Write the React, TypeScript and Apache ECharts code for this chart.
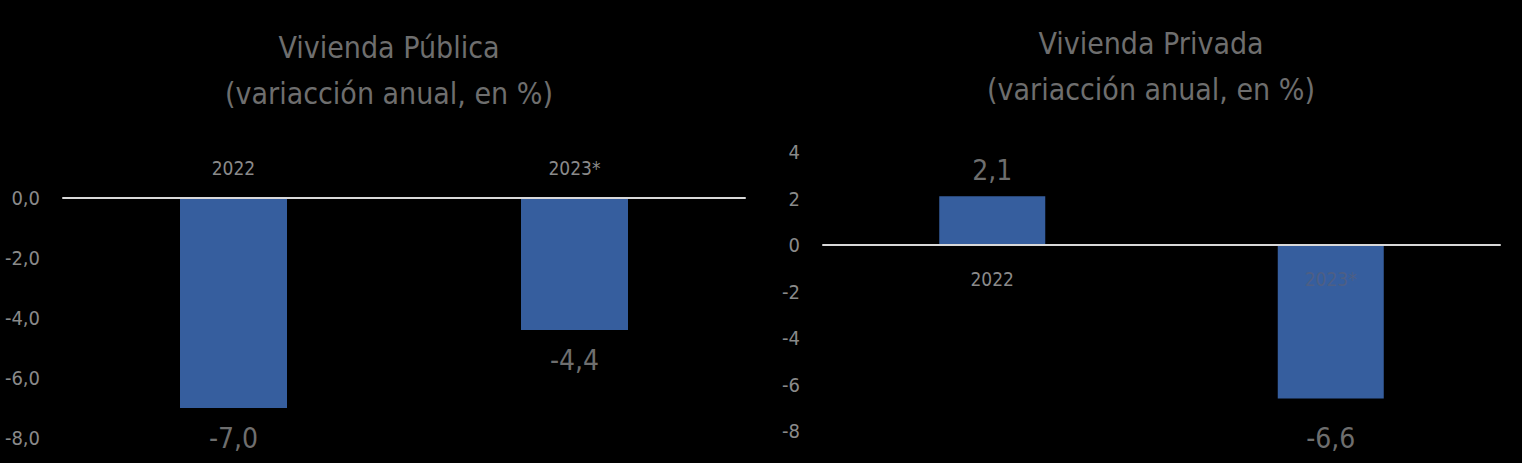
import React, { useEffect, useRef } from "react";
import * as echarts from "echarts";

const categories = ["2022", "2023*"];
const publicaValues = [-7.0, -4.4];
const privadaValues = [2.1, -6.6];
const publicaTitle = "Vivienda Pública\n(variacción anual, en %)";
const privadaTitle = "Vivienda Privada\n(variacción anual, en %)";

const FONT = '"Liberation Sans Narrow", "DejaVu Sans Condensed", "Roboto", sans-serif';
const BAR = "#365E9E";
const TITLE_C = "#6e6e6e";
const TICK_C = "#8a8a8a";
const LINE_C = "#d9d9d9";

const fmt1 = (v: number) => v.toFixed(1).replace(".", ",");

export default function App() {
  const ref = useRef<HTMLDivElement>(null);
  useEffect(() => {
    document.body.style.margin = "0";
    document.body.style.background = "#000";
    const chart = echarts.init(ref.current!, null, { renderer: "svg" });
    const rightMin = -8;
    const rightMax = 4;
    const rightHeight = 279;
    chart.setOption({
      animation: false,
      backgroundColor: "#000",
      title: [
        {
          text: publicaTitle,
          left: 384,
          top: 19,
          textAlign: "center",
          textStyle: { color: TITLE_C, fontFamily: FONT, fontSize: 30, fontWeight: "normal", lineHeight: 46, align: "center" },
        },
        {
          text: privadaTitle,
          left: 1146,
          top: 15,
          textAlign: "center",
          textStyle: { color: TITLE_C, fontFamily: FONT, fontSize: 30, fontWeight: "normal", lineHeight: 46, align: "center" },
        },
      ],
      grid: [
        { left: 63, width: 682, top: 198, height: 240 },
        { left: 823, width: 677, top: 152, height: rightHeight },
      ],
      xAxis: [
        {
          type: "category",
          gridIndex: 0,
          data: categories,
          position: "top",
          z: 3,
          axisLine: { onZero: false, lineStyle: { color: LINE_C, width: 2 } },
          axisTick: { show: false },
          axisLabel: { color: TICK_C, fontFamily: FONT, fontSize: 19, margin: 21 },
        },
        {
          type: "category",
          gridIndex: 1,
          data: categories,
          position: "bottom",
          z: 3,
          offset: -(rightHeight * (0 - rightMin)) / (rightMax - rightMin),
          axisLine: { onZero: false, lineStyle: { color: LINE_C, width: 2 } },
          axisTick: { show: false },
          axisLabel: {
            color: (v: string, i: number) => (i === 1 ? "#4d5f85" : TICK_C),
            fontFamily: FONT,
            fontSize: 19,
            margin: 24,
          },
        },
      ],
      yAxis: [
        {
          type: "value",
          gridIndex: 0,
          min: -8,
          max: 0,
          interval: 2,
          splitLine: { show: false },
          axisLine: { show: false },
          axisTick: { show: false },
          axisLabel: { color: TICK_C, fontFamily: FONT, fontSize: 20, margin: 23, formatter: (v: number) => fmt1(v) },
        },
        {
          type: "value",
          gridIndex: 1,
          min: rightMin,
          max: rightMax,
          interval: 2,
          splitLine: { show: false },
          axisLine: { show: false },
          axisTick: { show: false },
          axisLabel: { color: TICK_C, fontFamily: FONT, fontSize: 20, margin: 23 },
        },
      ],
      series: [
        {
          type: "bar",
          xAxisIndex: 0,
          yAxisIndex: 0,
          data: publicaValues,
          barWidth: 107,
          itemStyle: { color: BAR },
          label: {
            show: true,
            position: "bottom",
            distance: 16,
            color: TITLE_C,
            fontFamily: FONT,
            fontSize: 28,
            formatter: (p: any) => fmt1(p.value),
          },
        },
        {
          type: "bar",
          xAxisIndex: 1,
          yAxisIndex: 1,
          data: privadaValues.map((v) => ({
            value: v,
            label: { position: v >= 0 ? "top" : "bottom", distance: v >= 0 ? 12 : 26 },
          })),
          barWidth: 106,
          itemStyle: { color: BAR },
          label: {
            show: true,
            color: TITLE_C,
            fontFamily: FONT,
            fontSize: 28,
            formatter: (p: any) => fmt1(p.value),
          },
        },
      ],
    });
    return () => chart.dispose();
  }, []);
  return <div ref={ref} style={{ width: 1522, height: 463, background: "#000" }} />;
}
